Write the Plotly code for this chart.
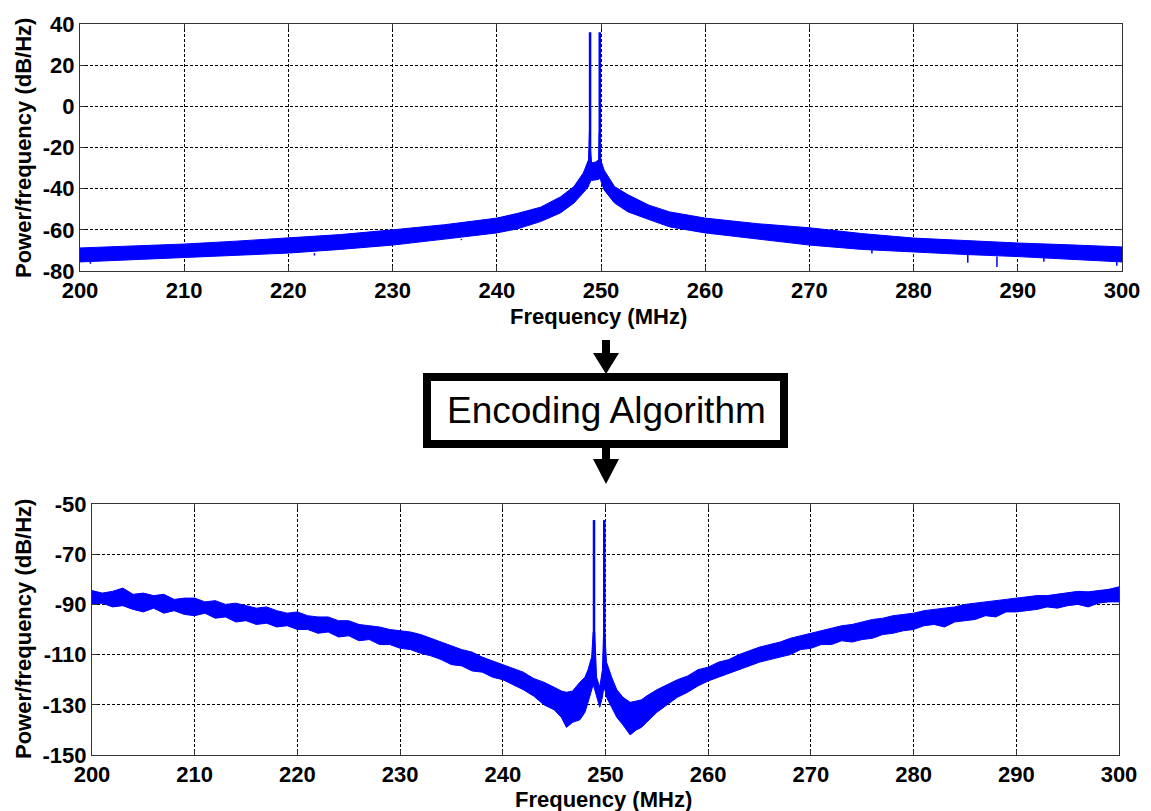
import plotly.graph_objects as go

W, H = 1151, 811

# ---------------- data ----------------
# Top panel: spectrum before encoding (noise band envelope, dB/Hz)
top_freq = [200, 205, 210, 215, 220, 225, 230, 235, 240, 242, 244.2, 246.1, 247.4,
            248.3, 248.8, 248.85, 248.92, 249.0, 249.1, 249.5, 249.78, 249.82, 249.9,
            249.97, 250.3, 251.3, 252.6, 254.6, 256.6, 260, 265, 270, 275, 280, 285,
            290, 295, 300]
top_upper = [-68.8, -68.0, -66.9, -65.5, -64.0, -62.3, -60.0, -57.5, -54.3, -52.0, -49.0,
             -44.0, -39.0, -32.4, -26.0, -20.0, -7.6, -22.0, -27.5, -27.0, -26.0, -13.0,
             -13.0, -26.0, -31.0, -39.0, -43.0, -48.0, -51.3, -54.3, -57.0, -59.0, -61.8,
             -64.0, -65.3, -66.4, -67.3, -68.3]
top_lower = [-75.6, -74.5, -73.7, -72.5, -71.3, -69.5, -67.4, -64.5, -61.5, -59.5, -56.0,
             -51.8, -47.0, -42.0, -39.0, -38.0, -37.0, -36.5, -36.0, -35.8, -35.5, -35.0,
             -35.0, -36.0, -40.6, -47.0, -51.3, -55.0, -58.6, -61.5, -64.5, -67.4, -69.5,
             -70.8, -72.0, -73.0, -74.3, -75.6]
top_spike_freq = [248.95, 249.88]
top_spike_base = [-30.0, -30.0]
top_spike_peak = [36.0, 36.0]
top_dip_freq = [201.0, 222.5, 236.6, 276.0, 285.2, 288.0, 292.5, 299.5]
top_dip_low = [-76.5, -72.5, -65.0, -71.5, -76.0, -78.0, -75.5, -77.5]

# Bottom panel: spectrum after encoding
bot_freq = [200, 201, 202, 203, 204, 205, 206, 207, 208, 209, 210, 211, 212, 213, 214, 215,
            216, 217, 218, 219, 220, 221, 222, 223, 224, 225, 226, 227, 228, 229, 230, 231,
            232, 233, 234, 235, 236, 237, 238, 239, 240, 241, 242, 243, 244, 245, 245.7,
            246.2, 246.8, 247.5, 248.0, 248.3, 248.65, 248.8, 248.95, 249.13, 249.44, 249.7,
            249.8, 249.95, 250.1, 250.6, 251.1, 251.7, 252.4, 253, 253.5, 254, 255, 256,
            257, 258, 259, 260, 261, 262, 263, 264, 265, 266, 267, 268, 269, 270, 271, 272,
            273, 274, 275, 276, 277, 278, 279, 280, 281, 282, 283, 284, 285, 286, 287, 288,
            289, 290, 291, 292, 293, 294, 295, 296, 297, 298, 299, 300]
bot_upper = [-84.5, -85.5, -84.8, -83.5, -86.0, -85.5, -86.5, -86.0, -88.0, -87.5, -87.5,
             -89.0, -88.5, -90.0, -89.5, -90.5, -91.5, -91.0, -92.5, -93.5, -93.0, -94.5,
             -95.0, -95.0, -96.5, -96.5, -98.0, -98.5, -99.0, -100.0, -100.5, -101.0, -102.0,
             -103.5, -105.0, -106.5, -108.0, -109.0, -111.0, -112.5, -114.0, -115.5, -117.0,
             -119.5, -121.0, -123.0, -124.5, -125.0, -124.5, -121.0, -119.0, -116.0, -111.0,
             -101.0, -101.0, -119.0, -123.0, -116.0, -103.0, -103.0, -113.0, -119.0, -124.0,
             -127.0, -129.0, -128.5, -128.0, -126.5, -124.0, -122.0, -120.0, -118.5, -116.0,
             -115.0, -113.0, -112.0, -110.0, -108.5, -107.0, -106.0, -105.0, -103.5, -102.5,
             -101.5, -100.5, -99.5, -98.5, -98.0, -97.0, -96.0, -95.5, -94.5, -94.0, -93.5,
             -92.5, -92.0, -91.5, -91.0, -90.0, -89.5, -89.0, -88.5, -88.0, -87.5, -87.0,
             -86.5, -86.5, -86.0, -85.5, -84.8, -85.0, -84.5, -84.0, -83.0]
bot_lower = [-90.0, -89.5, -91.0, -90.5, -92.0, -93.0, -91.5, -93.5, -92.5, -94.0, -94.5,
             -93.5, -95.5, -95.0, -97.0, -96.5, -98.0, -97.5, -99.0, -98.5, -100.0, -100.0,
             -101.5, -101.0, -103.0, -102.5, -104.5, -104.0, -106.0, -106.0, -107.5, -108.0,
             -109.5, -110.5, -112.0, -114.0, -114.5, -116.5, -117.0, -119.0, -120.0, -122.0,
             -124.0, -126.5, -130.0, -132.0, -135.0, -139.0, -137.0, -136.0, -133.0, -129.0,
             -124.0, -122.0, -124.0, -127.0, -131.0, -127.0, -124.0, -124.0, -127.0, -131.0,
             -135.0, -138.0, -142.0, -140.0, -139.0, -137.0, -133.0, -130.0, -127.0, -125.0,
             -122.5, -120.5, -119.0, -117.5, -116.0, -114.5, -113.0, -112.0, -111.0, -110.0,
             -108.0, -107.5, -106.0, -106.0, -104.5, -105.0, -104.0, -103.5, -102.0, -101.5,
             -100.5, -100.0, -98.5, -98.0, -99.0, -97.0, -96.5, -96.0, -94.5, -95.0, -93.0,
             -93.0, -92.5, -92.0, -91.0, -91.5, -90.5, -90.0, -91.0, -89.5, -89.0, -89.0]
bot_spike_freq = [248.88, 249.88]
bot_spike_base = [-110.0, -112.0]
bot_spike_peak = [-56.4, -56.4]

x_ticks = [200, 210, 220, 230, 240, 250, 260, 270, 280, 290, 300]
top_y_ticks = [-80, -60, -40, -20, 0, 20, 40]
bot_y_ticks = [-150, -130, -110, -90, -70, -50]

BLUE = "#0000FF"

# ---------------- helpers ----------------
def px(x):
    return x / W


def py(y):
    return 1 - y / H


fig = go.Figure()


def add_band(freq, lower, upper, xa, ya):
    fig.add_trace(go.Scatter(x=freq, y=lower, mode="lines", line=dict(color=BLUE, width=1),
                             xaxis=xa, yaxis=ya, showlegend=False, hoverinfo="skip"))
    fig.add_trace(go.Scatter(x=freq, y=upper, mode="lines", line=dict(color=BLUE, width=1),
                             fill="tonexty", fillcolor=BLUE,
                             xaxis=xa, yaxis=ya, showlegend=False, hoverinfo="skip"))


def add_spikes(freqs, bases, peaks, xa, ya, width=2.5):
    for f, b, p in zip(freqs, bases, peaks):
        fig.add_trace(go.Scatter(x=[f, f], y=[b, p], mode="lines",
                                 line=dict(color=BLUE, width=width),
                                 xaxis=xa, yaxis=ya, showlegend=False, hoverinfo="skip"))


add_band(top_freq, top_lower, top_upper, "x", "y")
add_spikes(top_spike_freq, top_spike_base, top_spike_peak, "x", "y")
# small downward noise dips below the band
for f, lo in zip(top_dip_freq, top_dip_low):
    i = min(range(len(top_freq)), key=lambda k: abs(top_freq[k] - f))
    fig.add_trace(go.Scatter(x=[f, f], y=[top_lower[i], lo], mode="lines",
                             line=dict(color=BLUE, width=1.5), xaxis="x", yaxis="y",
                             showlegend=False, hoverinfo="skip"))

add_band(bot_freq, bot_lower, bot_upper, "x2", "y2")
add_spikes(bot_spike_freq, bot_spike_base, bot_spike_peak, "x2", "y2")

FONT = "Liberation Sans, Arial, sans-serif"
tick_font = dict(family=FONT, size=22, color="black", weight="bold")

common_x = dict(range=[200, 300], tickmode="array", tickvals=x_ticks, ticks="inside", ticklen=5,
                tickcolor="#333333", showline=True, linecolor="#333333", linewidth=1,
                mirror="ticks", showgrid=True, gridcolor="black", gridwidth=1,
                griddash="3px,2px", zeroline=False, tickfont=tick_font, automargin=False)
common_y = dict(ticks="inside", ticklen=5, tickcolor="#333333", showline=True,
                linecolor="#333333", linewidth=1, mirror="ticks", showgrid=True,
                gridcolor="black", gridwidth=1, griddash="3px,2px", zeroline=False,
                tickfont=tick_font, tickmode="array", automargin=False)

# plot-area pixel boxes
T_L, T_R, T_T, T_B = 80, 1122, 24, 271
B_L, B_R, B_T, B_B = 92, 1119, 504, 755

fig.update_layout(
    width=W, height=H, autosize=False,
    margin=dict(l=0, r=0, t=0, b=0, autoexpand=False),
    paper_bgcolor="white", plot_bgcolor="white",
    xaxis=dict(common_x, domain=[px(T_L), px(T_R)], anchor="y"),
    yaxis=dict(common_y, domain=[py(T_B), py(T_T)], anchor="x", range=[-80, 40],
               tickvals=top_y_ticks, ticktext=[str(v) for v in top_y_ticks]),
    xaxis2=dict(common_x, domain=[px(B_L), px(B_R)], anchor="y2"),
    yaxis2=dict(common_y, domain=[py(B_B), py(B_T)], anchor="x2", range=[-150, -50],
                tickvals=bot_y_ticks, ticktext=[str(v) for v in bot_y_ticks]),
)

title_font = dict(family=FONT, size=22, color="black", weight="bold")
annots = [
    dict(text="Frequency (MHz)", x=px(598), y=py(317), xref="paper", yref="paper",
         showarrow=False, font=title_font, xanchor="center", yanchor="middle"),
    dict(text="Frequency (MHz)", x=px(603), y=py(799), xref="paper", yref="paper",
         showarrow=False, font=title_font, xanchor="center", yanchor="middle"),
    dict(text="Power/frequency (dB/Hz)", x=px(23), y=py(148), xref="paper", yref="paper",
         showarrow=False, font=title_font, textangle=-90, xanchor="center", yanchor="middle"),
    dict(text="Power/frequency (dB/Hz)", x=px(23), y=py(629), xref="paper", yref="paper",
         showarrow=False, font=title_font, textangle=-90, xanchor="center", yanchor="middle"),
    dict(text="Encoding Algorithm", x=px(606), y=py(411), xref="paper", yref="paper",
         showarrow=False, font=dict(family=FONT, size=37, color="black"),
         xanchor="center", yanchor="middle"),
]
fig.update_layout(annotations=annots)


def path(points):
    return "M " + " L ".join(f"{px(a)},{py(b)}" for a, b in points) + " Z"


shapes = [
    # box
    dict(type="rect", xref="paper", yref="paper", x0=px(427), x1=px(784), y0=py(444), y1=py(377),
         line=dict(color="black", width=8), fillcolor="rgba(0,0,0,0)"),
    # top arrow shaft + head
    dict(type="rect", xref="paper", yref="paper", x0=px(602), x1=px(610), y0=py(354), y1=py(340),
         line=dict(width=0), fillcolor="black"),
    dict(type="path", xref="paper", yref="paper",
         path=path([(593, 353), (619, 353), (606, 374)]), line=dict(width=0), fillcolor="black"),
    # bottom arrow shaft + head
    dict(type="rect", xref="paper", yref="paper", x0=px(602), x1=px(610), y0=py(460), y1=py(447),
         line=dict(width=0), fillcolor="black"),
    dict(type="path", xref="paper", yref="paper",
         path=path([(593, 459), (619, 459), (606, 484)]), line=dict(width=0), fillcolor="black"),
]
fig.update_layout(shapes=shapes)

fig.write_html("out.html")
